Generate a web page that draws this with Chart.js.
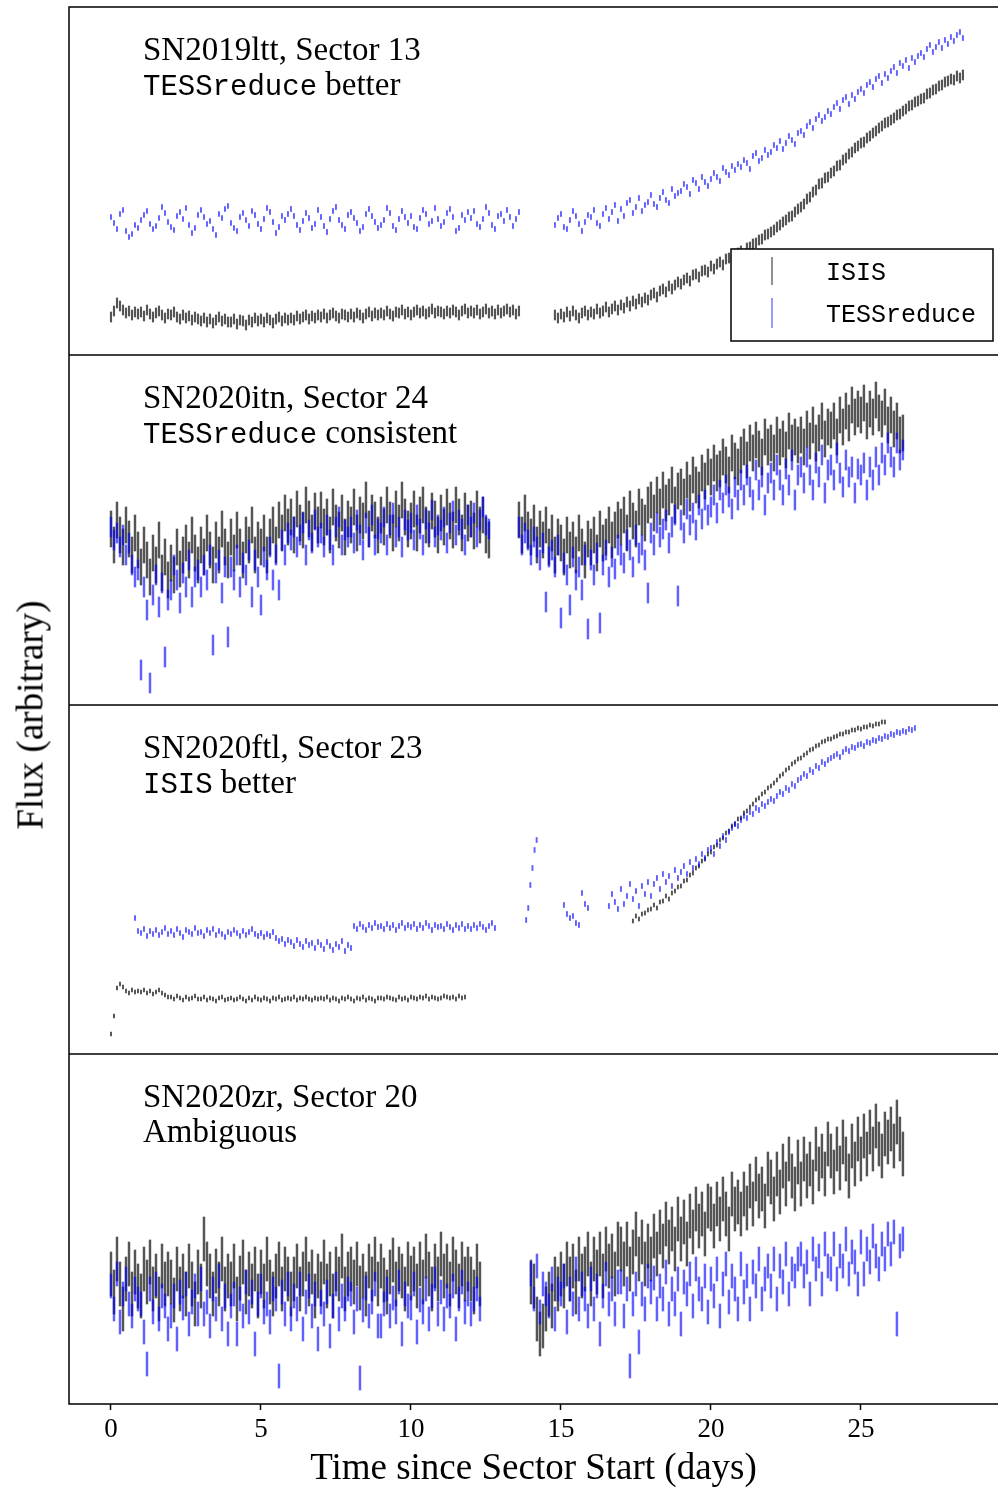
<!DOCTYPE html>
<html><head><meta charset="utf-8">
<script src="https://cdn.jsdelivr.net/npm/chart.js@4.4.0/dist/chart.umd.min.js"></script>
<style>
html,body{margin:0;padding:0;background:#fff;}
#wrap{position:relative;width:998px;height:1488px;overflow:hidden;background:#fff;}
canvas{position:absolute;left:0;}
#ylab{position:absolute;left:30px;top:715px;transform:translate(-50%,-50%) rotate(-90deg);font:37px "Liberation Serif";white-space:nowrap;color:#000;line-height:1;}
</style></head><body>
<div id="wrap">
<canvas id="c1" width="998" height="355" style="top:0px"></canvas>
<canvas id="c2" width="998" height="350" style="top:355px"></canvas>
<canvas id="c3" width="998" height="349" style="top:705px"></canvas>
<canvas id="c4" width="998" height="434" style="top:1054px"></canvas>
<div id="ylab">Flux (arbitrary)</div>
</div>
<script>
// ---------- axis / labels ----------
const xTicks = [0, 5, 10, 15, 20, 25];
const xRange = [-1.4, 29.57];
const seriesNames = ['ISIS', 'TESSreduce'];
const panelTitles = ['SN2019ltt, Sector 13', 'SN2020itn, Sector 24', 'SN2020ftl, Sector 23', 'SN2020zr, Sector 20'];
const verdictMono = ['TESSreduce', 'TESSreduce', 'ISIS', ''];
const verdictRest = [' better', ' consistent', ' better', 'Ambiguous'];
const yMax = [348, 350, 349, 350];   // flux range of each panel (arbitrary units)

// ---------- panel 1 : SN2019ltt (0.1 d cadence) ----------
const p1IsisStarts = [0.0, 14.8];
const p1IsisSteps = [0.1, 0.1];
const p1IsisA = [38,44,52,49,45,42,44,40,43,41, 43,39,45,41,38,42,44,40,37,41, 40,43,38,36,40,37,39,35,38,36, 34,37,33,36,32,35,38,34,36,33, 33,36,31,35,34,30,35,33,37,34, 36,33,37,35,32,36,38,34,37,35, 37,35,39,36,38,40,36,39,37,40, 38,41,37,40,42,39,37,41,40,38, 41,38,42,40,37,41,43,39,42,40, 42,40,44,41,39,43,42,45,41,43, 40,43,45,42,44,41,43,46,42,44, 43,41,44,42,45,43,40,44,46,42, 44,42,45,41,43,46,42,44,41,45, 42,44,46,43,45,41,44];
const p1IsisB = [40,37, 41,38,43,39,44,40,37,42,44,40, 43,41,46,42,44,48,43,46,49,45, 50,47,53,49,54,51,56,53,57,55, 60,62,58,64,66,63,69,66,70,73, 71,75,77,74,80,81,78,84,85,83, 89,86,91,93,90,96,97,95,101,102, 104,101,107,108,111,112,115,116,120,121, 123,125,128,130,133,135,138,139,143,146, 148,151,156,158,163,165,171,172,177,178, 182,184,189,190,195,197,201,203,207,209, 212,213,217,219,222,224,227,229,232,233, 235,237,240,241,244,246,249,250,253,254, 256,257,261,262,265,266,269,270,273,274, 276,275,279,277,280];
const p1TessStarts = [0.0, 14.8];
const p1TessSteps = [0.1, 0.1];
const p1TessA = [138,132,126,141,145,124,118,121,130,127, 135,140,144,131,126,129,137,148,142,133, 128,125,139,143,136,147,130,122,127,140, 145,138,131,134,126,120,141,137,146,149, 132,127,124,138,142,135,129,144,140,131, 126,136,147,143,133,122,128,139,135,141, 146,139,130,125,134,142,137,127,131,145, 138,129,123,136,144,148,135,130,126,140, 143,137,132,124,128,141,146,139,133,127, 130,135,147,142,129,125,136,144,138,132, 139,128,126,137,145,141,131,134,147,136, 129,133,142,146,138,124,127,140,135,143, 137,144,131,128,136,148,142,130,126,139, 141,134,145,138,129,136,143];
const p1TessB = [130,137, 141,128,126,135,144,139,131,124,133,140, 138,145,132,129,141,147,136,143,150,134, 146,139,152,155,142,148,157,144,150,153, 160,151,148,157,163,155,152,166,159,162, 164,171,168,161,175,172,166,178,173,169, 176,182,178,174,187,183,180,189,185,191, 188,195,192,186,199,202,194,197,205,200, 203,210,207,214,206,212,219,215,211,222, 224,220,229,233,227,236,240,234,238,244, 241,248,252,246,255,258,251,260,256,263, 266,262,270,273,268,276,279,272,281,277, 284,288,282,292,289,295,287,297,293,299, 302,298,306,310,303,308,313,307,315,311, 318,314,320,323,317];
const p1Err = [5, 2.5];

// ---------- panel 2 : SN2020itn ----------
const p2IsisStarts = [0.0, 13.6];
const p2IsisSteps = [0.1, 0.1];
const p2IsisA = [176,160,185,170,158,180,166,150,172,155, 138,160,145,128,152,140,165,132,148,125, 142,130,158,136,150,162,145,170,152,140, 160,148,172,155,140,165,150,176,158,145, 168,152,175,158,145,170,160,180,150,165, 158,172,150,168,180,160,185,172,192,178, 188,170,196,182,175,200,186,172,194,180, 195,178,188,170,198,182,175,192,168,186, 180,198,172,190,184,205,176,192,185,170, 190,178,200,185,172,196,182,205,188,176, 184,196,172,190,200,180,176,194,186,170, 192,178,198,184,175,200,188,172,194,182, 186,174,196,180,190,170,165];
const p2IsisB = [185,170,192,175, 168,182,160,176,165,180,158,172,150,168, 162,148,170,155,165,150,172,158,145,166, 158,170,152,176,162,168,180,165,175,185, 178,190,172,196,184,176,198,188,182,200, 205,192,210,198,215,202,208,220,200,214, 218,208,225,212,230,220,215,232,224,238, 228,242,232,236,248,240,230,252,244,238, 250,258,245,262,252,265,256,248,268,258, 262,252,270,258,266,255,274,262,268,260, 270,258,276,264,280,262,272,284,266,278, 275,284,268,290,278,294,282,300,288,296, 290,302,284,296,288,305,292,286,298,280, 290,276,284,270,272];
const p2TessStarts = [0.0, 13.6];
const p2TessSteps = [0.1, 0.1];
const p2TessA = [178,165,172,158,170,150,162,140,128,135, 35,118,95,22,110,130,98,122,48,105, 115,140,125,102,132,118,145,108,128,135, 118,140,125,150,60,132,145,112,138,68, 138,125,150,118,142,130,155,108,145,128, 100,148,135,158,125,150,115,165,150,172, 165,178,158,170,182,150,175,162,185,168, 172,158,180,165,150,178,188,160,175,168, 178,162,185,170,155,182,168,190,160,176, 172,188,160,180,192,168,178,158,185,175, 182,165,190,176,160,186,172,195,168,180, 175,188,162,182,194,170,185,176,160,190, 178,192,168,185,198,180,176];
const p2TessB = [178,160,172,165, 150,168,158,145,162,103,148,155,138,160, 87,142,130,100,148,125,138,115,150,76, 145,130,152,82,140,155,128,148,136,160, 150,142,165,155,138,170,152,160,145,112, 172,160,182,168,176,185,162,178,190,109, 185,172,196,180,192,175,200,186,205,190, 198,210,192,215,202,220,208,196,218,205, 225,210,230,218,205,235,215,228,200,222, 232,215,240,225,210,236,220,245,205,230, 238,222,248,230,215,242,228,250,212,235, 240,225,252,232,218,245,228,238,212,236, 230,242,215,238,225,248,230,252,240,262, 248,238,262,245,255];
const p2Err = [18, 10];

// ---------- panel 3 : SN2020ftl ----------
const p3IsisStarts = [0.0, 17.4];
const p3IsisSteps = [0.1, 0.1];
const p3IsisA = [20,38,66,70,67,63,61,64,62,63, 62,64,61,63,60,62,64,61,59,57, 57,55,58,56,54,57,55,56,58,55, 55,57,54,56,55,53,56,57,54,55, 56,54,55,57,55,53,56,54,57,55, 54,56,55,53,56,55,57,54,55,56, 55,57,54,56,55,57,55,54,56,55, 56,55,57,54,56,55,53,56,55,57, 55,53,56,55,57,54,56,55,53,56, 56,55,57,56,55,54,57,55,56,54, 57,56,55,57,56,58,55,57,56,55, 56,58,57,56,57,55,58,56,57];
const p3IsisB = [133,138,135,140,141,144, 145,149,146,152,153,158,155,161,163,167, 168,173,174,179,181,186,188,193,195,200, 202,207,209,214,216,221,223,228,230,235, 236,241,243,247,250,254,256,260,262,266, 268,271,274,278,280,284,286,290,292,295, 296,299,301,304,305,308,309,312,313,315, 315,317,318,320,320,322,322,324,324,326, 325,327,327,329,328,330,330,332,332];
const p3TessStarts = [0.8, 13.84, 15.1, 16.6];
const p3TessSteps = [0.1, 0.07, 0.1, 0.1];
const p3TessA = [136,123, 121,125,118,123,120,124,119,122,126,120, 123,119,125,121,117,124,122,120,126,121, 122,118,124,121,125,119,123,120,117,122, 120,124,121,118,123,119,122,125,120,118, 121,117,120,118,122,116,113,115,110,114, 112,108,114,110,107,113,109,111,106,112, 109,105,112,108,104,110,107,113,103,109, 106,128,125,130,127,124,129,126,131,127, 128,125,130,126,129,124,128,131,126,129, 127,130,125,129,126,131,128,124,129,127, 128,125,130,127,124,129,126,130,125,128, 125,129,126,130,127,124,128,131,126];
const p3TessB = [134,146,169,186,204,214];
const p3TessC = [149,140,136,138,131,129,161,150,146];
const p3TessD = [148,160,152,145, 165,150,158,170,155,163,148,168,160,172, 158,170,176,165,180,172,178,168,184,176, 182,188,180,192,186,195,190,200,196,204, 206,200,212,208,218,214,222,226,230,228, 234,238,236,242,240,246,244,250,248,252, 255,253,258,262,260,266,264,270,268,274, 276,280,278,284,282,288,286,292,290,294, 296,298,300,297,302,305,303,307,306,309, 310,308,312,311,314,313,316,315,318,317, 320,319,322,321,323,322,325,324,326];
const p3Err = [2, 2.5];

// ---------- panel 4 : SN2020zr ----------
const p4IsisStarts = [0.0, 14.0];
const p4IsisSteps = [0.1, 0.1];
const p4IsisA = [130,112,145,120,95,125,140,110,132,118, 108,135,122,142,115,128,105,138,120,130, 122,104,135,115,128,110,138,120,100,132, 118,165,140,128,110,133,120,145,115,128, 120,138,105,126,142,112,130,118,135,108, 132,118,145,122,110,128,140,115,135,125, 110,125,138,115,130,145,120,132,108,128, 120,142,118,130,108,135,125,148,115,130, 135,122,140,116,128,110,138,125,145,120, 138,124,112,132,144,120,135,128,115,140, 126,135,118,140,122,148,130,115,138,125, 150,128,138,120,145,132,118,140,125,135, 125,112,138,120];
const p4IsisB = [122,118,85,70,78,95,110,98,125,115, 130,118,140,125,138,112,145,128,135,150, 120,145,132,150,128,155,138,148,130,160, 155,140,160,135,152,170,145,162,140,158, 145,168,150,172,158,180,162,175,155,185, 165,182,160,188,172,195,178,190,170,198, 195,178,200,185,205,190,175,210,195,202, 190,210,196,218,200,225,208,215,198,230, 222,205,230,212,238,220,245,228,215,242, 220,245,228,240,222,255,235,248,230,260, 248,232,255,236,262,245,228,258,240,265, 245,268,250,272,255,278,260,248,270,262, 275,258,282,265,250];
const p4TessStarts = [0.0, 14.0];
const p4TessSteps = [0.1, 0.1];
const p4TessA = [118,95,130,82,110,125,100,88,115,105, 100,72,40,115,92,120,85,108,98,75, 88,108,65,112,96,120,80,102,118,90, 125,90,102,78,115,95,128,85,108,70, 98,110,70,105,88,122,92,112,60,100, 118,92,100,82,115,105,28,112,90,120, 85,108,95,120,75,102,118,88,110,65, 102,90,112,68,98,120,85,108,95,115, 110,82,105,26,94,116,88,102,120,78, 78,100,115,88,106,92,122,70,110,98, 96,120,72,104,92,115,85,108,125,90, 112,85,108,98,118,75,105,122,92,110, 90,105,115,95];
const p4TessB = [130,105,138,92,120,110,98,125,85,115, 110,128,82,115,100,135,95,120,105,88, 125,95,118,70,108,130,100,115,90,122, 122,88,115,38,100,120,62,110,95,128, 112,126,95,118,105,132,90,115,100,125, 80,122,110,130,98,135,115,105,128,92, 125,108,135,88,120,140,102,128,115,95, 140,112,128,95,132,118,145,105,125,138, 118,145,105,138,122,150,110,135,128,145, 150,128,142,110,155,135,148,120,160,138, 135,160,125,148,138,165,130,152,142,120, 162,130,155,142,168,148,135,160,145,170, 150,172,80,158,165];
const p4Err = [22, 12];

// ---------- build error-bar marks ----------
function toBars(starts, steps, segs, err) {
  const out = [];
  segs.forEach((vals, k) => vals.forEach((v, i) => {
    const t = +(starts[k] + i * steps[k]).toFixed(3);
    out.push({x: t, y: [v - err, v + err]});
  }));
  return out;
}
const ISIS_COLOR = 'rgba(20,20,20,0.72)';
const TESS_COLOR = 'rgba(0,0,255,0.62)';

const panels = [
  {isis: toBars(p1IsisStarts, p1IsisSteps, [p1IsisA, p1IsisB], p1Err[0]), tess: toBars(p1TessStarts, p1TessSteps, [p1TessA, p1TessB], p1Err[1]), wI: 1.5, wT: 1.3},
  {isis: toBars(p2IsisStarts, p2IsisSteps, [p2IsisA, p2IsisB], p2Err[0]), tess: toBars(p2TessStarts, p2TessSteps, [p2TessA, p2TessB], p2Err[1]), wI: 1.8, wT: 1.8},
  {isis: toBars(p3IsisStarts, p3IsisSteps, [p3IsisA, p3IsisB], p3Err[0]), tess: toBars(p3TessStarts, p3TessSteps, [p3TessA, p3TessB, p3TessC, p3TessD], p3Err[1]), wI: 1.3, wT: 1.3},
  {isis: toBars(p4IsisStarts, p4IsisSteps, [p4IsisA, p4IsisB], p4Err[0]), tess: toBars(p4TessStarts, p4TessSteps, [p4TessA, p4TessB], p4Err[1]), wI: 1.8, wT: 1.8}
];

// ---------- frame, annotation and legend plugin ----------
const framePlugin = {
  id: 'frame',
  afterDraw(chart, args, o) {
    const {ctx, chartArea: a} = chart;
    ctx.save();
    ctx.strokeStyle = '#000';
    ctx.lineWidth = 1.5;
    ctx.beginPath();
    ctx.moveTo(a.right + 2, a.top); ctx.lineTo(a.left, a.top);
    ctx.lineTo(a.left, a.bottom); ctx.lineTo(a.right + 2, a.bottom);
    ctx.stroke();
    ctx.fillStyle = '#000';
    ctx.textBaseline = 'alphabetic';
    ctx.font = '33px "Liberation Serif"';
    const tx = a.left + 74;
    ctx.fillText(o.title, tx, a.top + 52.7);
    let x2 = tx;
    if (o.mono) {
      ctx.font = '29px "Liberation Mono"';
      ctx.fillText(o.mono, x2, a.top + 87.5);
      x2 += ctx.measureText(o.mono).width;
    }
    ctx.font = '33px "Liberation Serif"';
    ctx.fillText(o.rest, x2, a.top + 87.5);
    if (o.legend) {
      const bx = a.left + 662, by = a.top + 242, bw = 262, bh = 92;
      ctx.fillStyle = '#fff';
      ctx.fillRect(bx, by, bw, bh);
      ctx.strokeStyle = '#000';
      ctx.lineWidth = 1.5;
      ctx.strokeRect(bx, by, bw, bh);
      const rows = [[8, 36, 31], [49, 79, 73]];
      chart.data.datasets.forEach((d, i) => {
        ctx.strokeStyle = d.backgroundColor;
        ctx.lineWidth = 1.3;
        ctx.beginPath();
        ctx.moveTo(bx + 41, by + rows[i][0]);
        ctx.lineTo(bx + 41, by + rows[i][1]);
        ctx.stroke();
        ctx.fillStyle = '#000';
        ctx.font = '25px "Liberation Mono"';
        ctx.fillText(d.label, bx + 95, by + rows[i][2]);
      });
    }
    ctx.restore();
  }
};

function makePanel(idx) {
  const p = panels[idx];
  const last = idx === 3;
  const xScale = {
    type: 'linear', min: xRange[0], max: xRange[1], offset: false, display: last,
    grid: {offset: false, drawOnChartArea: false, drawTicks: true, tickLength: 6, tickWidth: 1.5, tickColor: '#000'},
    border: {display: false},
    ticks: {font: {family: 'Liberation Serif', size: 27}, color: '#000', padding: 4, maxRotation: 0, autoSkip: false},
    title: {display: true, text: 'Time since Sector Start (days)', font: {family: 'Liberation Serif', size: 37, lineHeight: 1}, color: '#000', padding: {top: 0, bottom: 0}}
  };
  if (last) {
    xScale.afterBuildTicks = s => { s.ticks = xTicks.map(v => ({value: v})); };
    xScale.afterFit = s => { s.height = 84; };
  }
  return new Chart(document.getElementById('c' + (idx + 1)), {
    type: 'bar',
    data: {datasets: [
      {label: seriesNames[0], data: p.isis, backgroundColor: ISIS_COLOR, barThickness: p.wI, grouped: false, order: 2},
      {label: seriesNames[1], data: p.tess, backgroundColor: TESS_COLOR, barThickness: p.wT, grouped: false, order: 1}
    ]},
    options: {
      responsive: false, animation: false, devicePixelRatio: 1,
      layout: {padding: {left: 69, top: idx === 0 ? 7 : 0, right: 0, bottom: 0}},
      plugins: {
        legend: {display: false}, tooltip: {enabled: false},
        frame: {title: panelTitles[idx], mono: verdictMono[idx], rest: verdictRest[idx], legend: idx === 0}
      },
      scales: {x: xScale, y: {min: 0, max: yMax[idx], display: false}}
    },
    plugins: [framePlugin]
  });
}
[0, 1, 2, 3].forEach(makePanel);
</script>
</body></html>
